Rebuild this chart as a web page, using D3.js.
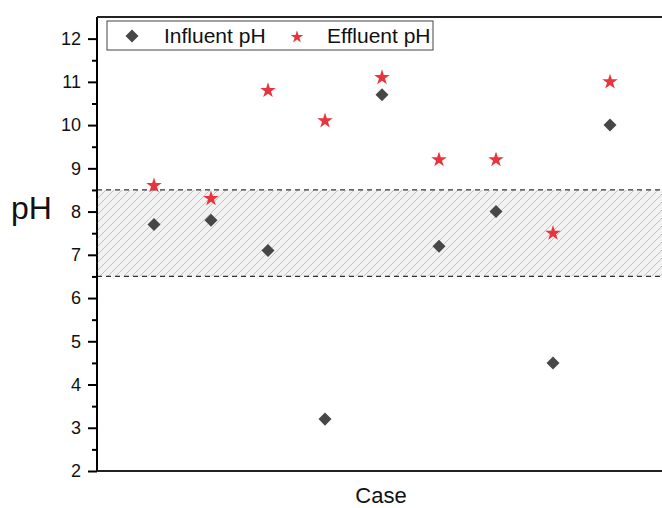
<!DOCTYPE html>
<html>
<head>
<meta charset="utf-8">
<script src="https://cdn.jsdelivr.net/npm/d3@7"></script>
<style>
  body { margin: 0; background: #fff; }
  svg { display: block; font-family: "Liberation Sans", Arial, sans-serif; }
</style>
</head>
<body>
<svg id="chart" width="662" height="508"></svg>
<script>
// data
let cases = [1, 2, 3, 4, 5, 6, 7, 8, 9];
let influent = [7.7, 7.8, 7.1, 3.2, 10.7, 7.2, 8.0, 4.5, 10.0];
let effluent = [8.6, 8.3, 10.8, 10.1, 11.1, 9.2, 9.2, 7.5, 11.0];
let yTicks = [2, 3, 4, 5, 6, 7, 8, 9, 10, 11, 12];
let band = [6.5, 8.5];
let seriesNames = ["Influent pH", "Effluent pH"];

let width = 662;
let height = 508;
let margin = { top: 17, right: 0, bottom: 37, left: 97 };

let svg = d3.select("#chart");

let x = d3.scaleLinear()
    .domain([0, 10])
    .range([margin.left, margin.left + 570]);

let y = d3.scaleLinear()
    .domain([2, 12.5])
    .range([height - margin.bottom, margin.top]);

// hatch pattern for the band
let defs = svg.append("defs");
let pat = defs.append("pattern")
    .attr("id", "hatch")
    .attr("patternUnits", "userSpaceOnUse")
    .attr("width", 8)
    .attr("height", 8);
pat.append("rect").attr("width", 8).attr("height", 8).attr("fill", "#f2f2f2");
pat.append("path")
    .attr("d", "M-2,2 L2,-2 M0,8 L8,0 M6,10 L10,6")
    .attr("stroke", "#c2c2c2")
    .attr("stroke-width", 1);

svg.append("rect")
    .attr("x", x(0))
    .attr("y", y(band[1]))
    .attr("width", width - x(0))
    .attr("height", y(band[0]) - y(band[1]))
    .attr("fill", "url(#hatch)");

band.forEach(function (v) {
    svg.append("line")
        .attr("x1", x(0))
        .attr("x2", width)
        .attr("y1", y(v))
        .attr("y2", y(v))
        .style("stroke", "#333")
        .style("stroke-width", 1.3)
        .style("stroke-dasharray", "5,4");
});

// y axis major ticks
let yAxis = d3.axisLeft(y)
    .tickValues(yTicks)
    .tickSize(9)
    .tickPadding(7)
    .tickFormat(d3.format("d"));

let yg = svg.append("g")
    .attr("transform", `translate(${x(0)},0)`)
    .call(yAxis);
yg.select(".domain").remove();
yg.selectAll("line").style("stroke", "#000").style("stroke-width", 2);
yg.selectAll("text").style("font-size", "18px").style("fill", "#111");

// minor ticks
let minor = d3.range(2.5, 12.5, 1);
let ym = svg.append("g")
    .attr("transform", `translate(${x(0)},0)`)
    .call(d3.axisLeft(y).tickValues(minor).tickSize(5).tickFormat(""));
ym.select(".domain").remove();
ym.selectAll("line").style("stroke", "#000").style("stroke-width", 2);

// frame lines
svg.append("line")
    .attr("x1", x(0)).attr("x2", x(0))
    .attr("y1", y(12.5)).attr("y2", y(2))
    .style("stroke", "#000").style("stroke-width", 2);
svg.append("line")
    .attr("x1", x(0)).attr("x2", width)
    .attr("y1", y(2)).attr("y2", y(2))
    .style("stroke", "#222").style("stroke-width", 2);
svg.append("line")
    .attr("x1", x(0)).attr("x2", width)
    .attr("y1", y(12.5)).attr("y2", y(12.5))
    .style("stroke", "#222").style("stroke-width", 2);

let diamond = d3.symbol().type(d3.symbolSquare).size(85);
let star = d3.symbol().type(d3.symbolStar).size(75);

svg.selectAll(".inf")
    .data(cases)
    .join("path")
    .attr("class", "inf")
    .attr("d", diamond)
    .attr("transform", (d, i) => `translate(${x(d)},${y(influent[i])}) rotate(45)`)
    .attr("fill", "#474747");

svg.selectAll(".eff")
    .data(cases)
    .join("path")
    .attr("class", "eff")
    .attr("d", star)
    .attr("transform", (d, i) => `translate(${x(d)},${y(effluent[i])})`)
    .attr("fill", "#e8353d");

// legend
let lg = svg.append("g");
lg.append("rect")
    .attr("x", 107).attr("y", 21)
    .attr("width", 326).attr("height", 29)
    .attr("fill", "#fff")
    .attr("stroke", "#444")
    .attr("stroke-width", 1);
lg.append("path")
    .attr("d", diamond)
    .attr("transform", "translate(132,36) rotate(45)")
    .attr("fill", "#474747");
lg.append("text")
    .attr("x", 164).attr("y", 43)
    .text(seriesNames[0])
    .style("font-size", "21px").style("fill", "#111");
lg.append("path")
    .attr("d", d3.symbol().type(d3.symbolStar).size(50))
    .attr("transform", "translate(297,37)")
    .attr("fill", "#e8353d");
lg.append("text")
    .attr("x", 327).attr("y", 43)
    .text(seriesNames[1])
    .style("font-size", "21px").style("fill", "#111");

// axis titles
svg.append("text")
    .attr("x", 11).attr("y", 219)
    .text("pH")
    .style("font-size", "32px").style("fill", "#111");

svg.append("text")
    .attr("x", 381).attr("y", 503)
    .attr("text-anchor", "middle")
    .text("Case")
    .style("font-size", "22px").style("fill", "#111");
</script>
</body>
</html>
